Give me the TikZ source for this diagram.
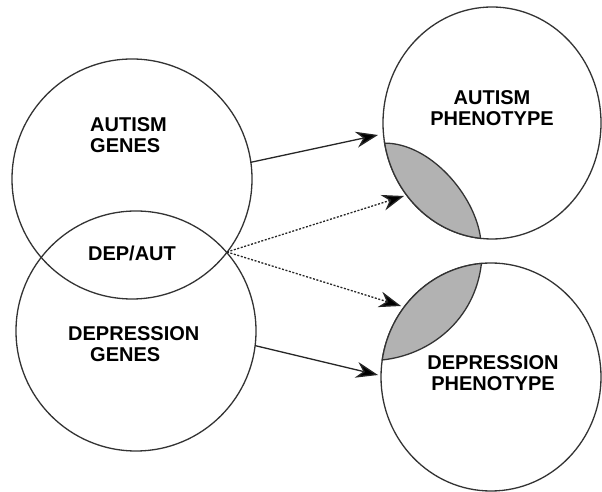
\documentclass[tikz,border=0pt]{standalone}
\usepackage{fontspec}
\setmainfont{Liberation Sans}
\usetikzlibrary{arrows.meta,shapes.geometric}
\begin{document}
\begin{tikzpicture}[x=1pt,y=1pt,
  ring/.style={draw=black!80,line width=1.3pt,circle,inner sep=0pt,outer sep=0pt,minimum size=240pt},
  oval/.style={draw=black!80,line width=1.3pt,ellipse,inner sep=0pt,outer sep=0pt},
  lens/.style={fill=black!30,draw=black!80,line width=1.3pt},
  lbl/.style={font=\fontsize{20}{21}\selectfont\bfseries,inner sep=0pt,text=black},
  tip/.style={-{Stealth[length=22pt,width=16pt,inset=7pt,fill=black]}},
  solidarrow/.style={tip,draw=black!85,line width=1.3pt},
  dotarrow/.style={tip,draw=black!85,line width=1.3pt,dash pattern=on 2pt off 1.6pt}]
\useasboundingbox (0,0) rectangle (602,492);
\fill[white] (0,0) rectangle (602,492);
% left circles
\node[ring] (ag) at (132,313) {};
\node[ring] (dg) at (136,161) {};
% right ellipses
\node[oval,minimum width=218pt,minimum height=232pt] (ap) at (492,369) {};
\node[oval,minimum width=220pt,minimum height=228pt] (dp) at (491,115) {};
% lenses
\coordinate (la) at (384.66,348.86);
\coordinate (lb) at (480.61,253.64);
\fill[lens] (la) .. controls (430,349) and (475,297) .. (lb)
  arc[start angle=264,end angle=190,x radius=109pt,y radius=116pt] -- cycle;
\coordinate (lc) at (481.41,228.57);
\coordinate (ld) at (382.24,132.05);
\fill[lens] (lc) .. controls (475,172) and (430,137) .. (ld)
  arc[start angle=171.4,end angle=95,x radius=110pt,y radius=114pt] -- cycle;
% labels
\node[lbl,align=left,anchor=west] (agt) at (90,356.5) {AUTISM\\GENES};
\node[lbl] (dat) at (132,238.5) {DEP/AUT};
\node[lbl,align=left,anchor=west] (dgt) at (68,148) {DEPRESSION\\\hspace*{22pt}GENES};
\node[lbl,align=center] (apt) at (492,384) {AUTISM\\PHENOTYPE};
\node[lbl,align=center] (dpt) at (493,119) {DEPRESSION\\PHENOTYPE};
% arrows
\coordinate (ov) at (227,240);
\coordinate (t1) at (378,357);
\coordinate (t2) at (404,296);
\coordinate (t3) at (401,186);
\coordinate (t4) at (378,117);
\draw[solidarrow] (ag.8) -- (t1);
\draw[dotarrow] (ov) -- (t2);
\draw[dotarrow] (ov) -- (t3);
\draw[solidarrow] (dg.-7) -- (t4);
\end{tikzpicture}
\end{document}
